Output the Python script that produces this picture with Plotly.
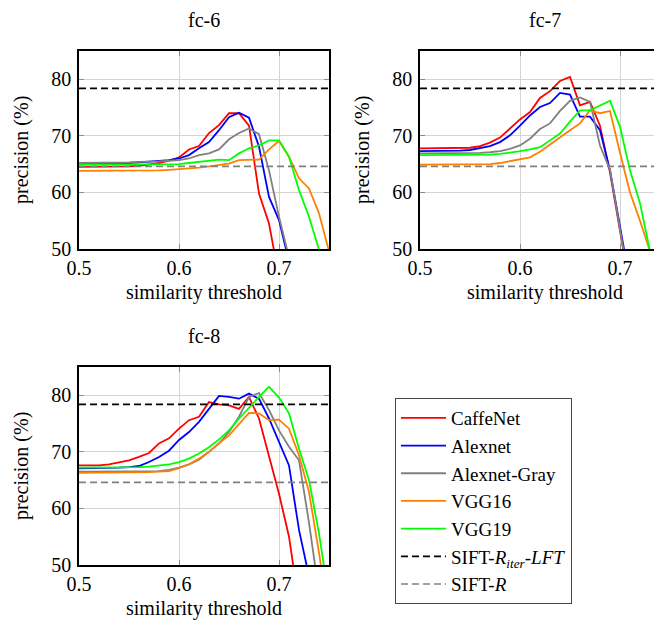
import plotly.graph_objects as go

# ---------------- data ----------------
thresholds = [0.50, 0.51, 0.52, 0.53, 0.54, 0.55, 0.56, 0.57, 0.58, 0.59,
              0.60, 0.61, 0.62, 0.63, 0.64, 0.65, 0.66, 0.67, 0.68, 0.69,
              0.70, 0.71, 0.72, 0.73, 0.74, 0.75]

series_names = ["CaffeNet", "Alexnet", "Alexnet-Gray", "VGG16", "VGG19"]
series_colors = ["#ff0000", "#0000ff", "#808080", "#ff8000", "#00ff00"]

fc6_caffenet = [64.5, 64.5, 64.5, 64.5, 64.6, 64.6, 64.7, 64.9, 65.2, 65.6,
                66.2, 67.6, 68.2, 70.5, 71.9, 74.0, 74.0, 71.8, 59.8, 54.5,
                45.0, None, None, None, None, None]
fc6_alexnet = [65.1, 65.1, 65.1, 65.1, 65.1, 65.2, 65.3, 65.4, 65.5, 65.7,
               66.0, 66.6, 67.8, 68.9, 71.0, 73.3, 74.1, 73.2, 68.1, 59.2,
               55.1, 47.8, None, None, None, None]
fc6_alexnet_gray = [65.2, 65.2, 65.2, 65.2, 65.3, 65.3, 65.4, 65.4, 65.5, 65.6,
                    65.7, 66.0, 66.6, 66.9, 67.6, 69.4, 70.5, 71.3, 70.3, 63.9,
                    55.7, 48.5, None, None, None, None]
fc6_vgg16 = [63.8, 63.8, 63.8, 63.8, 63.8, 63.8, 63.8, 63.9, 63.9, 64.0,
             64.1, 64.2, 64.4, 64.6, 64.9, 65.1, 65.7, 65.7, 65.8, 67.6,
             69.1, 66.3, 62.5, 60.7, 56.3, 49.6]
fc6_vgg19 = [64.9, 64.9, 64.9, 64.9, 64.9, 64.9, 64.9, 64.9, 65.0, 65.0,
             65.0, 65.2, 65.4, 65.6, 65.8, 65.7, 66.9, 67.8, 68.3, 69.2,
             69.2, 66.3, 60.4, 55.7, 49.9, None]

fc7_caffenet = [67.8, 67.8, 67.8, 67.8, 67.9, 67.9, 68.2, 68.8, 69.7, 71.3,
                72.9, 74.2, 76.7, 77.9, 79.7, 80.4, 75.4, 76.0, 71.8, 63.5,
                53.5, 43.0, None, None, None, None]
fc7_alexnet = [67.3, 67.3, 67.3, 67.3, 67.4, 67.5, 67.8, 68.2, 68.9, 70.1,
               71.8, 73.6, 75.1, 75.8, 77.6, 77.3, 73.4, 73.4, 71.0, 63.9,
               54.0, 44.0, None, None, None, None]
fc7_alexnet_gray = [66.9, 66.9, 66.9, 66.9, 66.9, 66.9, 67.0, 67.1, 67.3, 67.7,
                    68.3, 69.5, 71.2, 72.2, 74.4, 76.2, 76.8, 76.0, 68.3, 64.0,
                    53.0, 43.0, None, None, None, None]
fc7_vgg16 = [64.9, 64.9, 64.9, 64.9, 64.9, 64.9, 64.9, 65.0, 65.2, 65.5,
             65.9, 66.2, 67.2, 68.5, 69.8, 71.0, 72.2, 74.5, 74.0, 74.4,
             67.0, 60.0, 55.0, 49.6, None, None]
fc7_vgg19 = [66.6, 66.6, 66.6, 66.6, 66.6, 66.6, 66.6, 66.7, 66.8, 67.0,
             67.3, 67.6, 68.0, 69.2, 70.4, 72.5, 74.5, 74.5, 75.4, 76.2,
             71.6, 63.9, 58.1, 49.6, None, None]

fc8_caffenet = [67.6, 67.6, 67.6, 67.8, 68.1, 68.5, 69.1, 69.8, 71.5, 72.4,
                74.1, 75.6, 76.2, 78.8, 78.4, 78.2, 77.6, 79.7, 75.9, 69.1,
                62.6, 55.0, 43.0, None, None, None]
fc8_alexnet = [67.1, 67.1, 67.1, 67.1, 67.2, 67.3, 67.5, 68.2, 69.1, 70.2,
               72.1, 73.5, 75.3, 77.6, 79.9, 79.7, 79.4, 80.3, 79.4, 75.9,
               71.8, 67.6, 56.2, 48.0, None, None]
fc8_alexnet_gray = [66.5, 66.5, 66.5, 66.5, 66.5, 66.5, 66.5, 66.5, 66.6, 66.8,
                    67.2, 67.8, 68.6, 70.0, 71.5, 73.5, 76.2, 79.7, 80.4, 77.4,
                    73.8, 70.9, 68.5, 57.5, 45.0, None]
fc8_vgg16 = [66.3, 66.3, 66.3, 66.3, 66.3, 66.3, 66.3, 66.4, 66.5, 66.6,
             67.1, 67.8, 68.8, 70.0, 71.5, 72.9, 74.9, 76.9, 76.8, 75.6,
             75.7, 74.1, 69.4, 62.9, 52.2, 40.0]
fc8_vgg19 = [67.2, 67.2, 67.2, 67.2, 67.2, 67.2, 67.3, 67.4, 67.6, 67.8,
             68.2, 68.8, 69.7, 70.8, 72.2, 73.8, 75.9, 77.9, 79.7, 81.5,
             79.6, 76.8, 70.6, 65.0, 55.6, 44.0]

sift_r_iter_lft = 78.4
sift_r = 64.6
baseline_x = [0.5, 0.75]

panel_titles = ["fc-6", "fc-7", "fc-8"]
panel_series = [
    [fc6_caffenet, fc6_alexnet, fc6_alexnet_gray, fc6_vgg16, fc6_vgg19],
    [fc7_caffenet, fc7_alexnet, fc7_alexnet_gray, fc7_vgg16, fc7_vgg19],
    [fc8_caffenet, fc8_alexnet, fc8_alexnet_gray, fc8_vgg16, fc8_vgg19],
]
x_ticks = [0.5, 0.6, 0.7]
x_ticklabels = ["0.5", "0.6", "0.7"]
y_ticks = [50, 60, 70, 80]
y_ticklabels = ["50", "60", "70", "80"]

# ---------------- layout geometry (page pixels) ----------------
PAGE_W, PAGE_H = 662, 620
OFF = 8  # default body margin of the html page
W, H = PAGE_W - OFF, PAGE_H - OFF
FONT = "Liberation Serif"


def fx(px):
    return (px - OFF) / W


def fy(py):
    return 1 - (py - OFF) / H


# (left, right, top, bottom) of each plot area, in page pixels
boxes = [(79, 329, 51, 249), (420, 662, 51, 249), (79, 329, 367, 565)]
px_per_unit = (329 - 79) / 0.25

fig = go.Figure()
layout = dict(
    width=W, height=H, autosize=False,
    margin=dict(l=0, r=0, t=0, b=0, pad=0, autoexpand=False),
    paper_bgcolor="white", plot_bgcolor="white",
    font=dict(family=FONT, size=20, color="black"),
    showlegend=True,
    legend=dict(x=fx(395), y=fy(398), xanchor="left", yanchor="top",
                bgcolor="white", bordercolor="#444444", borderwidth=1,
                font=dict(family=FONT, size=19, color="black"),
                tracegroupgap=0, itemwidth=45),
)
annotations = []

for i, (title, series) in enumerate(zip(panel_titles, panel_series)):
    l, r, t, b = boxes[i]
    xa = "x" if i == 0 else f"x{i + 1}"
    ya = "y" if i == 0 else f"y{i + 1}"
    xkey = "xaxis" if i == 0 else f"xaxis{i + 1}"
    ykey = "yaxis" if i == 0 else f"yaxis{i + 1}"
    xmax = 0.5 + (r - l) / px_per_unit
    layout[xkey] = dict(
        domain=[fx(l), min(fx(r), 1.0)], range=[0.5, xmax], anchor=ya, automargin=False,
        tickvals=x_ticks, ticktext=x_ticklabels,
        showgrid=True, gridcolor="#d4d4d4", gridwidth=1, zeroline=False,
        showline=True, linecolor="black", linewidth=1.5, mirror="ticks",
        ticks="inside", ticklen=5, tickcolor="#8c8c8c", tickwidth=1,
        tickfont=dict(family=FONT, size=20, color="black"),
        ticklabelstandoff=0,
    )
    layout[ykey] = dict(
        domain=[fy(b), fy(t)], range=[50, 85], anchor=xa, automargin=False,
        tickvals=y_ticks, ticktext=y_ticklabels,
        showgrid=True, gridcolor="#d4d4d4", gridwidth=1, zeroline=False,
        showline=True, linecolor="black", linewidth=1.5,
        mirror="ticks" if i != 1 else False,
        ticks="inside", ticklen=5, tickcolor="#8c8c8c", tickwidth=1,
        tickfont=dict(family=FONT, size=20, color="black"),
        ticklabelstandoff=2,
    )
    for name, color, vals in zip(series_names, series_colors, series):
        fig.add_trace(go.Scatter(
            x=thresholds, y=vals, mode="lines", name=name,
            line=dict(color=color, width=1.8),
            xaxis=xa, yaxis=ya, showlegend=(i == 0), cliponaxis=True,
        ))
    fig.add_trace(go.Scatter(
        x=baseline_x, y=[sift_r_iter_lft, sift_r_iter_lft], mode="lines",
        name="SIFT-<i>R</i><sub><i>iter</i></sub>-<i>LFT</i>",
        line=dict(color="black", width=1.8, dash="7px,4px"),
        xaxis=xa, yaxis=ya, showlegend=(i == 0),
    ))
    fig.add_trace(go.Scatter(
        x=baseline_x, y=[sift_r, sift_r], mode="lines",
        name="SIFT-<i>R</i>",
        line=dict(color="#808080", width=1.6, dash="7px,4px"),
        xaxis=xa, yaxis=ya, showlegend=(i == 0),
    ))
    cx = (l + (l + 0.25 * px_per_unit)) / 2
    annotations.append(dict(text=title, x=fx(cx), y=fy(t - 31),
                            xref="paper", yref="paper", showarrow=False,
                            xanchor="center", yanchor="middle",
                            font=dict(family=FONT, size=20, color="black")))
    annotations.append(dict(text="similarity threshold", x=fx(cx), y=fy(b + 43),
                            xref="paper", yref="paper", showarrow=False,
                            xanchor="center", yanchor="middle",
                            font=dict(family=FONT, size=20, color="black")))
    annotations.append(dict(text="precision (%)", x=fx(l - 58), y=fy((t + b) / 2),
                            xref="paper", yref="paper", showarrow=False, textangle=-90,
                            xanchor="center", yanchor="middle",
                            font=dict(family=FONT, size=20, color="black")))

layout["annotations"] = annotations
fig.update_layout(**layout)
fig.write_html("out.html")
